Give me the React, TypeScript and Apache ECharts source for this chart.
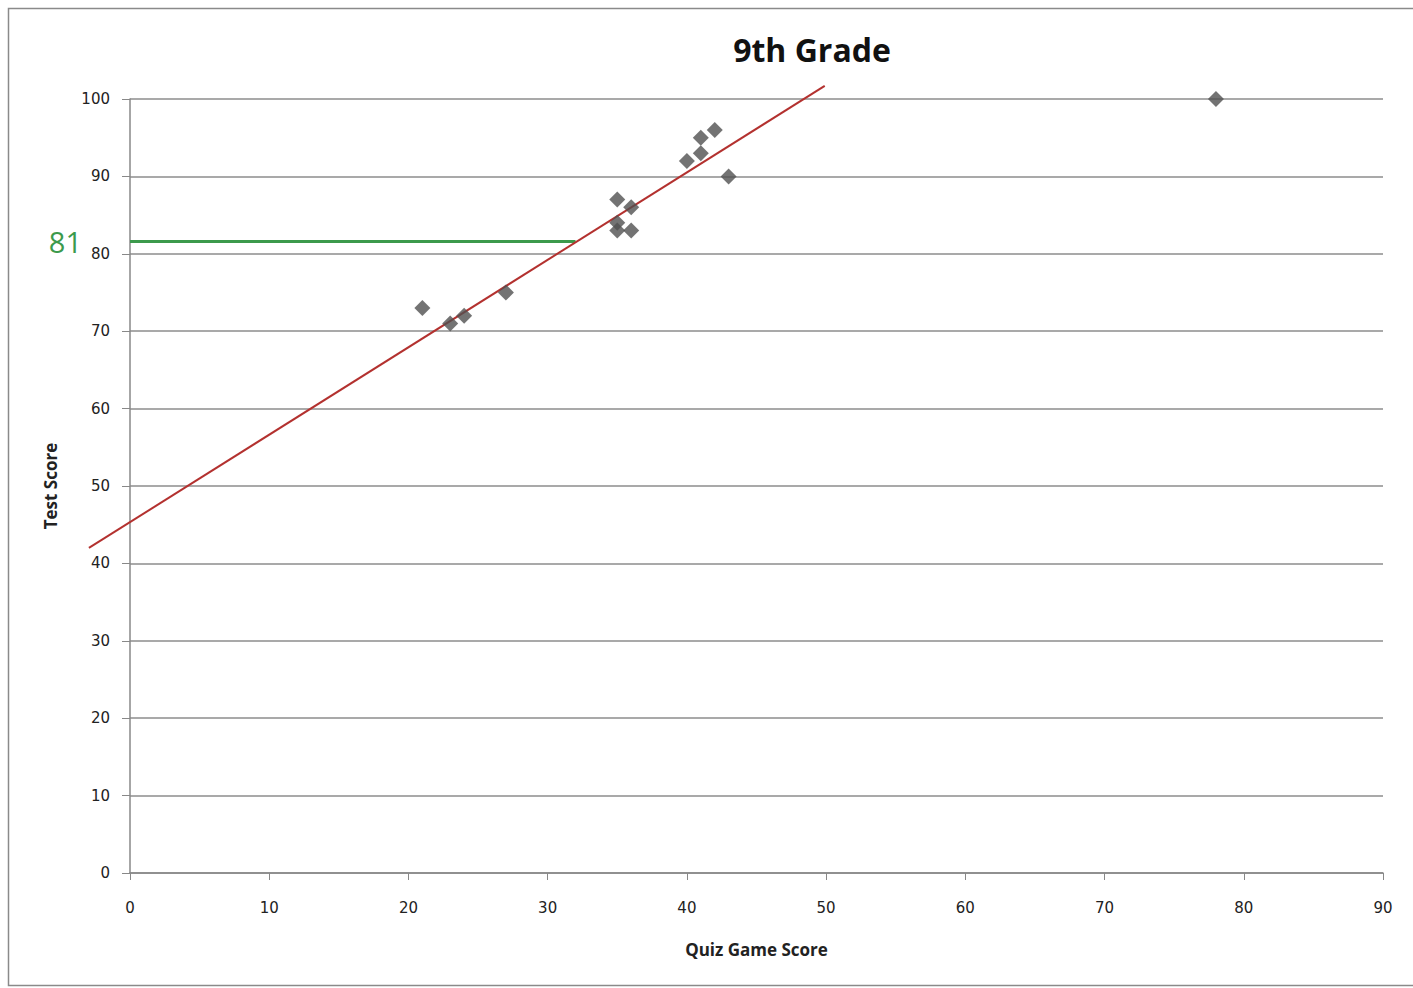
import React, { useEffect, useRef } from "react";
import * as echarts from "echarts";

const titleText = "9th Grade";
const xAxisName = "Quiz Game Score";
const yAxisName = "Test Score";

const quizScores = [21, 23, 24, 27, 35, 35, 35, 36, 36, 40, 41, 41, 42, 43, 78];
const testScores = [73, 71, 72, 75, 87, 84, 83, 86, 83, 92, 95, 93, 96, 90, 100];

// trend line end points
const trendX = [-2.95, 49.9];
const trendY = [42.0, 101.7];

// green reference line
const refX = [0, 32];
const refY = [81.6, 81.6];
const refLabel = "81";

export default function App() {
  const ref = useRef<HTMLDivElement>(null);
  useEffect(() => {
    if (!ref.current) return;
    const chart = echarts.init(ref.current, null, { renderer: "svg" });
    const points = quizScores.map((x, i) => [x, testScores[i]]);
    const trend = [[trendX[0], trendY[0], trendX[1], trendY[1]]];
    const refLine = refX.map((x, i) => [x, refY[i]]);
    chart.setOption({
      animation: false,
      backgroundColor: "#ffffff",
      title: {
        text: titleText,
        left: 807,
        top: 28,
        textAlign: "center",
        textStyle: { fontFamily: "Open Sans", fontWeight: "bold", fontSize: 32, color: "#111" },
      },
      graphic: [
        {
          type: "rect",
          shape: { x: 8.5, y: 8.5, width: 1410, height: 977 },
          style: { fill: "none", stroke: "#8a8a8a", lineWidth: 1.5 },
          silent: true,
        },
      ],
      grid: { left: 130, top: 99, right: 30, bottom: 115 },
      xAxis: {
        type: "value",
        min: 0,
        max: 90,
        interval: 10,
        name: xAxisName,
        nameLocation: "middle",
        nameGap: 68,
        nameTextStyle: { fontFamily: "Open Sans", fontWeight: "bold", fontSize: 17, color: "#222" },
        axisLine: { show: true, lineStyle: { color: "#888", width: 1.5 } },
        axisTick: { show: true, length: 7, lineStyle: { color: "#888" } },
        axisLabel: { fontFamily: "DejaVu Sans", fontSize: 15, color: "#222", margin: 27 },
        splitLine: { show: false },
      },
      yAxis: {
        type: "value",
        min: 0,
        max: 100,
        interval: 10,
        name: yAxisName,
        nameLocation: "middle",
        nameGap: 71,
        nameRotate: 90,
        nameTextStyle: { fontFamily: "Open Sans", fontWeight: "bold", fontSize: 17, color: "#222" },
        axisLine: { show: true, lineStyle: { color: "#888", width: 1.5 } },
        axisTick: { show: true, length: 8, lineStyle: { color: "#888" } },
        axisLabel: { fontFamily: "DejaVu Sans", fontSize: 15, color: "#222", margin: 20 },
        splitLine: { show: true, lineStyle: { color: "#8c8c8c", width: 1.5 } },
      },
      series: [
        {
          type: "custom",
          data: trend,
          clip: false,
          z: 3,
          renderItem: (params: any, api: any) => {
            const p1 = api.coord([api.value(0), api.value(1)]);
            const p2 = api.coord([api.value(2), api.value(3)]);
            return {
              type: "line",
              shape: { x1: p1[0], y1: p1[1], x2: p2[0], y2: p2[1] },
              style: { stroke: "#b3312f", lineWidth: 2 },
            };
          },
        },
        {
          type: "line",
          data: refLine,
          clip: false,
          symbol: "none",
          lineStyle: { color: "#3c9a4c", width: 3 },
          markPoint: {
            symbol: "circle",
            symbolSize: 0,
            data: [
              {
                coord: [refX[0], refY[0]],
                label: {
                  show: true,
                  formatter: refLabel,
                  position: "left",
                  distance: 48,
                  color: "#3c9a4c",
                  fontFamily: "Open Sans",
                  fontSize: 29,
                },
              },
            ],
          },
          z: 2,
        },
        {
          type: "scatter",
          data: points,
          symbol: "diamond",
          symbolSize: [16, 16],
          itemStyle: { color: "#505050" },
          z: 4,
        },
      ],
    });
    return () => chart.dispose();
  }, []);
  return <div ref={ref} style={{ position: "absolute", left: 0, top: 0, width: 1413, height: 988 }} />;
}
